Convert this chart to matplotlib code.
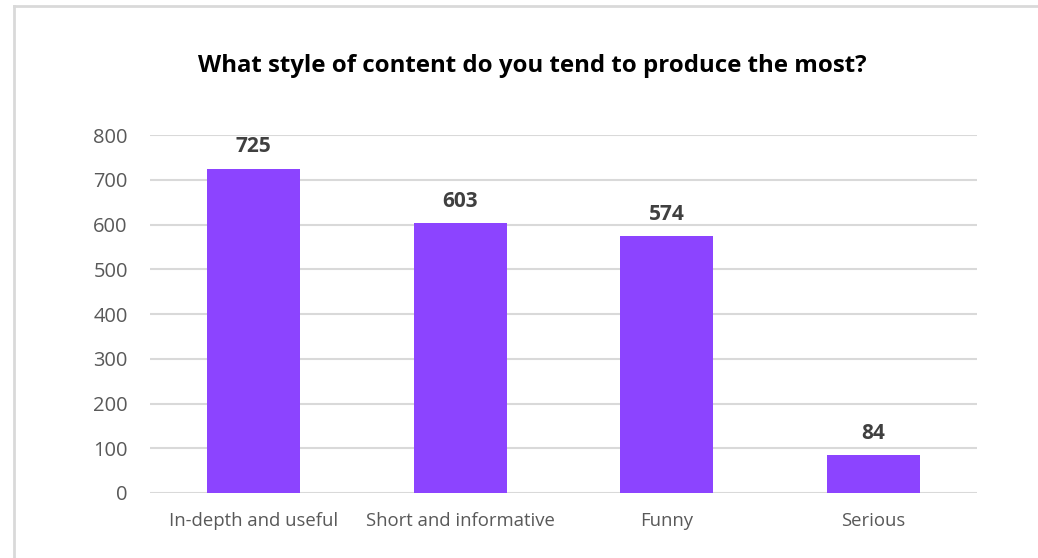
import os
import matplotlib.pyplot as plt
from matplotlib import font_manager
from matplotlib.font_manager import FontProperties
from matplotlib.lines import Line2D


def font_file(name, family):
    for f in font_manager.fontManager.ttflist:
        if os.path.basename(f.fname) == name:
            return FontProperties(fname=f.fname)
    return FontProperties(family=family)


regular = font_file('OpenSans-Regular.ttf', 'Noto Sans')
bold = font_file('OpenSans-Bold.ttf', 'DejaVu Sans')

categories = ['In-depth and useful', 'Short and informative', 'Funny', 'Serious']
counts = [725, 603, 574, 84]
y_ticks = [0, 100, 200, 300, 400, 500, 600, 700, 800]

bar_color = '#8C44FF'
grid_color = '#D9D9D9'
tick_color = '#595959'

fig = plt.figure(figsize=(10.38, 5.58), dpi=100)
ax = fig.add_axes([0.1445, 0.1165, 0.7967, 0.6415])

x = range(len(categories))
ax.bar(x, counts, width=0.45, color=bar_color, zorder=3)

for xi, v in zip(x, counts):
    ax.annotate(str(v), (xi, v), xytext=(0, 8), textcoords='offset points',
                ha='center', va='bottom', fontproperties=bold, fontsize=15,
                color='#404040')

ax.set_xlim(-0.5, len(categories) - 0.5)
ax.set_ylim(0, 800)
ax.set_yticks(y_ticks)
ax.set_xticks(list(x))
ax.set_xticklabels(categories)
for lbl in ax.get_xticklabels():
    lbl.set_fontproperties(regular)
    lbl.set_fontsize(13.3)
for lbl in ax.get_yticklabels():
    lbl.set_fontproperties(regular)
    lbl.set_fontsize(14.5)
ax.tick_params(axis='both', length=0, labelcolor=tick_color)
ax.tick_params(axis='x', pad=14)
ax.tick_params(axis='y', pad=16)
ax.yaxis.grid(True, color=grid_color, linewidth=1.5, zorder=0)
for s in ax.spines.values():
    s.set_visible(False)

fig.text(0.5125, 1 - 72 / 558, 'What style of content do you tend to produce the most?',
         ha='center', va='baseline', fontproperties=bold, fontsize=17.3, color='black')

# outer frame (top and left edges visible)
fig.add_artist(Line2D([14 / 1038, 14 / 1038], [0, 1 - 6 / 558],
                      transform=fig.transFigure, color='#D9D9D9', linewidth=2))
fig.add_artist(Line2D([14 / 1038, 1], [1 - 6 / 558, 1 - 6 / 558],
                      transform=fig.transFigure, color='#D9D9D9', linewidth=2))

fig.savefig('out.png', dpi=100)
